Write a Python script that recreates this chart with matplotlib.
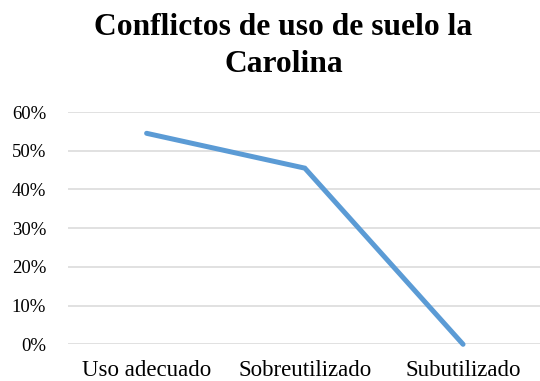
import matplotlib
matplotlib.use("Agg")
import matplotlib.pyplot as plt
from matplotlib.ticker import FuncFormatter

# conflict categories and their share of land area
categorias = ["Uso adecuado", "Sobreutilizado", "Subutilizado"]
porcentajes = [0.545, 0.455, 0.0]
yticks = [0.0, 0.1, 0.2, 0.3, 0.4, 0.5, 0.6]
titulo = ["Conflictos de uso de suelo la", "Carolina"]

plt.rcParams["font.family"] = ["Liberation Serif", "DejaVu Serif"]

fig = plt.figure(figsize=(5.4, 3.81), dpi=100)
ax = fig.add_axes([0.125, 0.0963, 0.879, 0.6097])

x = list(range(len(categorias)))
ax.plot(x, porcentajes, color="#5B9BD5", lw=3.6, solid_capstyle="round",
        solid_joinstyle="miter", zorder=3, clip_on=False)

ax.set_xlim(-0.5, 2.5)
ax.set_ylim(0, 0.6)
ax.set_yticks(yticks)
ax.yaxis.set_major_formatter(FuncFormatter(lambda v, _: f"{v*100:.0f}%"))
ax.set_xticks(x)
ax.set_xticklabels(categorias)
ax.grid(axis="y", color="#D9D9D9", lw=1.1)
ax.set_axisbelow(True)
for s in ax.spines.values():
    s.set_visible(False)
ax.tick_params(length=0, colors="#000000")
ax.tick_params(axis="y", labelsize=13.5, pad=15.3)
ax.tick_params(axis="x", labelsize=16.5, pad=11.3)

# two-line bold title
fig.text(0.525, 0.908, titulo[0], ha="center", va="baseline",
         fontsize=22.7, fontweight="bold")
fig.text(0.525, 0.812, titulo[1], ha="center", va="baseline",
         fontsize=22.7, fontweight="bold")

fig.savefig("out.png", dpi=100)
